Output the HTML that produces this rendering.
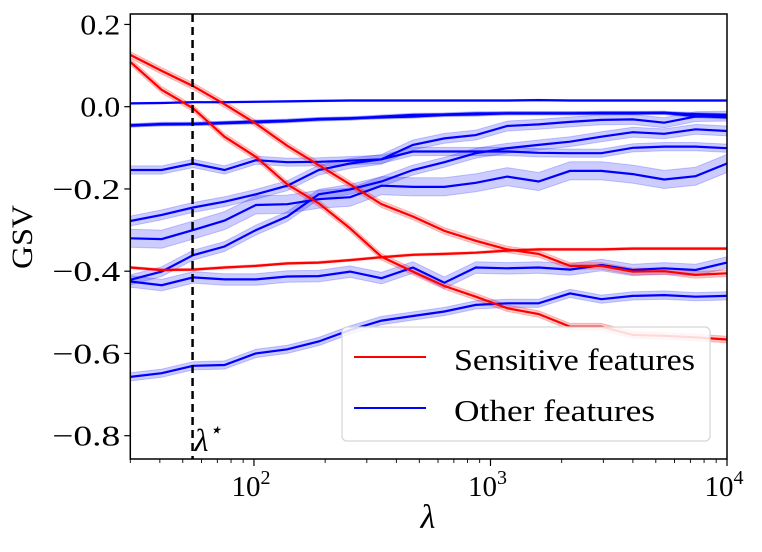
<!DOCTYPE html>
<html><head><meta charset="utf-8"><style>
html,body{margin:0;padding:0;background:#fff;}
svg{display:block;font-family:"Liberation Serif","DejaVu Serif",serif;}
</style></head><body>
<svg id="chart" width="762" height="552" viewBox="0 0 762 552" xmlns="http://www.w3.org/2000/svg">
<g id="bands"></g>
<g id="lines"></g>
<line id="lstar" stroke="#000" stroke-width="2.5" stroke-dasharray="8,5"/>
<text id="lstarlab" font-size="32" font-style="italic">λ<tspan font-size="22" dy="-14">⋆</tspan></text>
<rect x="130.3" y="14" width="596.7" height="445" fill="none" stroke="#000" stroke-width="1.5"/>
<g id="ticks"></g>
<g>
<rect x="342" y="327" width="368" height="114" rx="5" fill="rgba(255,255,255,0.85)" stroke="#d6d6d6" stroke-width="1.2"/>
<line x1="354" y1="357" x2="426" y2="357" stroke="#ff0000" stroke-width="2"/>
<text x="454" y="370" font-size="31" textLength="241" lengthAdjust="spacingAndGlyphs">Sensitive features</text>
<line x1="354" y1="408" x2="426" y2="408" stroke="#0000ff" stroke-width="2"/>
<text x="454" y="421" font-size="31" textLength="201" lengthAdjust="spacingAndGlyphs">Other features</text>
</g>
<text x="428" y="528" font-size="34" font-style="italic" text-anchor="middle">λ</text>
<text transform="translate(32,237) rotate(-90)" font-size="30" text-anchor="middle" textLength="64" lengthAdjust="spacingAndGlyphs">GSV</text>
</svg>
<script>
const lambdaStar = 55;
const yTicks = [0.2, 0.0, -0.2, -0.4, -0.6, -0.8];
const yTickLabels = ["0.2", "0.0", "\u22120.2", "\u22120.4", "\u22120.6", "\u22120.8"];
const xTicks = [100, 1000, 10000];
const xTickExps = ["2", "3", "4"];
const lambdaMin = 30, lambdaMax = 10000, nPoints = 20;
const redA = [0.126,0.087,0.050,0.006,-0.041,-0.095,-0.142,-0.189,-0.237,-0.267,-0.302,-0.326,-0.347,-0.358,-0.387,-0.387,-0.401,-0.400,-0.409,-0.405];
const redB = [0.109,0.041,-0.004,-0.073,-0.122,-0.189,-0.235,-0.296,-0.365,-0.401,-0.436,-0.462,-0.490,-0.504,-0.535,-0.535,-0.555,-0.557,-0.561,-0.566];
const redC = [-0.391,-0.397,-0.396,-0.391,-0.387,-0.381,-0.379,-0.373,-0.366,-0.360,-0.358,-0.355,-0.350,-0.347,-0.347,-0.347,-0.345,-0.345,-0.345,-0.345];
const blueA = [0.008,0.009,0.011,0.011,0.012,0.013,0.014,0.015,0.015,0.015,0.015,0.015,0.015,0.016,0.015,0.015,0.015,0.015,0.015,0.015];
const blueB = [-0.046,-0.042,-0.042,-0.039,-0.036,-0.034,-0.030,-0.028,-0.026,-0.024,-0.020,-0.019,-0.016,-0.016,-0.016,-0.015,-0.015,-0.015,-0.018,-0.020];
const blueB2 = [-0.045,-0.043,-0.042,-0.040,-0.038,-0.035,-0.031,-0.029,-0.024,-0.020,-0.019,-0.016,-0.016,-0.016,-0.016,-0.016,-0.016,-0.015,-0.023,-0.026];
const blueC = [-0.154,-0.154,-0.138,-0.154,-0.130,-0.135,-0.134,-0.131,-0.128,-0.109,-0.109,-0.109,-0.109,-0.112,-0.113,-0.113,-0.100,-0.097,-0.097,-0.101];
const blueD = [-0.278,-0.263,-0.245,-0.231,-0.213,-0.192,-0.154,-0.138,-0.128,-0.093,-0.077,-0.069,-0.047,-0.043,-0.037,-0.032,-0.031,-0.039,-0.024,-0.023];
const blueE = [-0.320,-0.322,-0.300,-0.277,-0.239,-0.237,-0.225,-0.220,-0.192,-0.195,-0.195,-0.185,-0.170,-0.182,-0.156,-0.156,-0.164,-0.177,-0.169,-0.138];
const blueF = [-0.421,-0.401,-0.361,-0.340,-0.300,-0.267,-0.213,-0.201,-0.182,-0.154,-0.135,-0.113,-0.101,-0.093,-0.085,-0.073,-0.062,-0.066,-0.055,-0.059];
const blueG = [-0.425,-0.434,-0.415,-0.420,-0.420,-0.413,-0.412,-0.401,-0.417,-0.391,-0.428,-0.391,-0.393,-0.391,-0.396,-0.385,-0.397,-0.393,-0.397,-0.379];
const blueH = [-0.657,-0.648,-0.630,-0.628,-0.600,-0.590,-0.571,-0.543,-0.520,-0.509,-0.498,-0.482,-0.478,-0.478,-0.454,-0.468,-0.460,-0.458,-0.462,-0.460];
const seriesList = [blueA,blueB,blueB2,blueC,blueD,blueE,blueF,blueG,blueH,redA,redB,redC];
const seriesColor = ["blue","blue","blue","blue","blue","blue","blue","blue","blue","red","red","red"];
const seriesSpread = [0.002,0.004,0.004,0.010,0.012,0.022,0.012,0.014,0.010,0.008,0.008,0.003];
const seriesNames = ["other-a","other-b","other-b2","other-c","other-d","other-e","other-f","other-g","other-h","sensitive-a","sensitive-b","sensitive-c"];

const NS = "http://www.w3.org/2000/svg";
const X0 = 130.3, X1 = 727, YT = 14, YB = 459;
function xs(l){ return X0 + (Math.log10(l) - Math.log10(lambdaMin)) / (Math.log10(lambdaMax) - Math.log10(lambdaMin)) * (X1 - X0); }
function ys(v){ return 106.7 - v * 411.25; }
function lam(i){ return Math.pow(10, Math.log10(lambdaMin) + i * (Math.log10(lambdaMax) - Math.log10(lambdaMin)) / (nPoints - 1)); }
function mk(tag, attrs, parent){ const e = document.createElementNS(NS, tag); for (const k in attrs) e.setAttribute(k, attrs[k]); parent.appendChild(e); return e; }

const bands = document.getElementById('bands'), lines = document.getElementById('lines'), ticks = document.getElementById('ticks');
seriesList.forEach((s, si) => {
  const col = seriesColor[si] === 'red' ? '#ff0000' : '#0000ff';
  const fill = seriesColor[si] === 'red' ? 'rgba(255,0,0,0.22)' : 'rgba(0,0,255,0.2)';
  const sp = seriesSpread[si];
  let up = s.map((v, i) => xs(lam(i)).toFixed(1) + ',' + ys(v + sp).toFixed(1));
  let dn = s.map((v, i) => xs(lam(i)).toFixed(1) + ',' + ys(v - sp).toFixed(1)).reverse();
  const b = mk('polygon', {points: up.concat(dn).join(' '), fill: fill, stroke: fill, 'stroke-width': 1}, bands);
  
  
  const p = mk('polyline', {points: s.map((v, i) => xs(lam(i)).toFixed(1) + ',' + ys(v).toFixed(1)).join(' '), fill: 'none', stroke: col, 'stroke-width': 2.2}, lines);
  
  
});

const ls = document.getElementById('lstar');
ls.setAttribute('x1', xs(lambdaStar)); ls.setAttribute('x2', xs(lambdaStar));
ls.setAttribute('y1', YT); ls.setAttribute('y2', YB);
const lsl = document.getElementById('lstarlab');
lsl.setAttribute('x', xs(lambdaStar) + 2); lsl.setAttribute('y', 451);

yTicks.forEach((v, i) => {
  const y = ys(v);
  const t = mk('line', {x1: X0 - 6, x2: X0, y1: y, y2: y, stroke: '#000', 'stroke-width': 1.2}, ticks);
  
  
  const w = yTickLabels[i].length === 4 ? 68 : 40;
  const tx = mk('text', {x: X0 - 10 - w, y: y + 10, 'font-size': 29, textLength: w, lengthAdjust: 'spacingAndGlyphs'}, ticks);
  tx.textContent = yTickLabels[i];
  
  
});
xTicks.forEach((v, i) => {
  const x = xs(v);
  const t = mk('line', {x1: x, x2: x, y1: YB, y2: YB + 7, stroke: '#000', 'stroke-width': 1.2}, ticks);
  
  
  const tx = mk('text', {x: x - 3, y: 496, 'font-size': 29, 'text-anchor': 'middle'}, ticks);
  tx.innerHTML = '10<tspan font-size="20" dy="-12">' + xTickExps[i] + '</tspan>';
  
  
});
for (let d = 1; d <= 3; d++) for (let m = 2; m <= 9; m++) {
  const l = m * Math.pow(10, d);
  if (l < lambdaMin || l > lambdaMax) continue;
  const x = xs(l);
  const t = mk('line', {x1: x, x2: x, y1: YB, y2: YB + 4, stroke: '#000', 'stroke-width': 0.9}, ticks);
  
  
}
</script>
</body></html>
